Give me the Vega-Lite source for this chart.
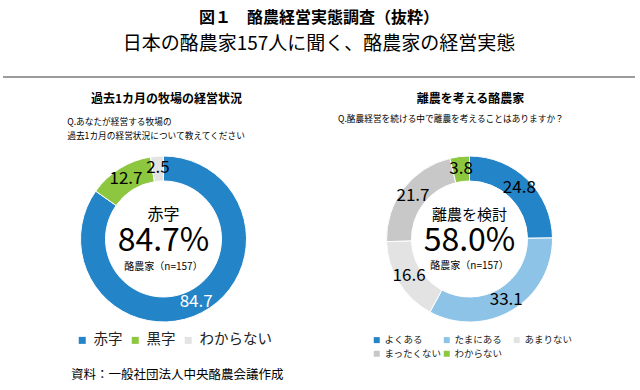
{
  "$schema": "https://vega.github.io/schema/vega-lite/v6.json",
  "padding": {"left": 3, "top": 10, "right": 0, "bottom": 0},
  "background": "white",
  "config": {"font": "Noto Sans CJK JP", "view": {"stroke": null}},
  "title": {
    "text": "図１　酪農経営実態調査（抜粋）",
    "subtitle": "日本の酪農家157人に聞く、酪農家の経営実態",
    "anchor": "middle",
    "fontSize": 16,
    "fontWeight": "bold",
    "color": "#000000",
    "subtitleFontSize": 19,
    "subtitleColor": "#000000",
    "subtitlePadding": 9,
    "offset": 22
  },
  "spacing": 15,
  "vconcat": [
    {
      "width": 632,
      "height": 2,
      "view": {"fill": "#9c9c9c", "stroke": null},
      "data": {"values": []},
      "mark": "rule",
      "encoding": {}
    },
    {
      "title": {
        "text": "資料：一般社団法人中央酪農会議作成",
        "orient": "bottom",
        "anchor": "start",
        "dx": 68,
        "offset": 6,
        "fontSize": 12.5,
        "fontWeight": "normal",
        "color": "#000000"
      },
      "spacing": 14,
      "resolve": {
        "scale": {"color": "independent", "theta": "independent", "x": "independent", "y": "independent"},
        "legend": {"color": "independent"}
      },
      "hconcat": [
        {
          "width": 321,
          "height": 248,
          "title": {"text": "過去1カ月の牧場の経営状況", "fontSize": 12, "fontWeight": "bold", "offset": 9, "dx": 3, "anchor": "middle", "color": "#000000"},
          "layer": [
            {
              "data": {"values": [
                {"cat": "赤字", "value": 84.7, "ord": 1},
                {"cat": "黒字", "value": 12.7, "ord": 2},
                {"cat": "わからない", "value": 2.5, "ord": 3}
              ]},
              "layer": [
                {
                  "mark": {"type": "arc", "innerRadius": 58, "outerRadius": 83, "stroke": "#ffffff", "strokeWidth": 1},
                  "encoding": {
                    "theta": {"field": "value", "type": "quantitative", "stack": true},
                    "order": {"field": "ord", "type": "quantitative"},
                    "color": {
                      "field": "cat", "type": "nominal",
                      "scale": {"domain": ["赤字", "黒字", "わからない"], "range": ["#2384C8", "#8DC63F", "#E3E3E3"]},
                      "legend": {
                        "orient": "none", "legendX": 72, "legendY": 218, "direction": "horizontal",
                        "title": null, "symbolType": "square", "symbolSize": 49, "symbolStrokeWidth": 0,
                        "labelFontSize": 14.5, "labelColor": "#222222", "columnPadding": 5, "labelOffset": 4, "padding": 0
                      }
                    }
                  }
                },
                {
                  "mark": {"type": "text", "radius": 71, "fontSize": 17},
                  "encoding": {
                    "theta": {"field": "value", "type": "quantitative", "stack": true},
                    "order": {"field": "ord", "type": "quantitative"},
                    "text": {"field": "value", "type": "quantitative", "format": ".1f"},
                    "color": {"condition": {"test": "datum.cat === '赤字'", "value": "#ffffff"}, "value": "#000000"}
                  }
                }
              ]
            },
            {
              "data": {"values": [{"t": "赤字"}]},
              "mark": {"type": "text", "fontSize": 16, "dy": -24, "color": "#000000"},
              "encoding": {"text": {"field": "t", "type": "nominal"}}
            },
            {
              "data": {"values": [{"t": "84.7%"}]},
              "mark": {"type": "text", "fontSize": 32, "dy": 2, "color": "#000000"},
              "encoding": {"text": {"field": "t", "type": "nominal"}}
            },
            {
              "data": {"values": [{"t": "酪農家（n=157）"}]},
              "mark": {"type": "text", "fontSize": 10, "dy": 28, "color": "#000000"},
              "encoding": {"text": {"field": "t", "type": "nominal"}}
            },
            {
              "data": {"values": [{"t": "Q.あなたが経営する牧場の\n過去1カ月の経営状況について教えてください"}]},
              "mark": {"type": "text", "align": "left", "baseline": "top", "fontSize": 8.7, "lineBreak": "\n", "lineHeight": 14, "color": "#000000"},
              "encoding": {
                "x": {"datum": 0.2, "type": "quantitative", "scale": {"domain": [0, 1]}, "axis": null},
                "y": {"datum": 0.986, "type": "quantitative", "scale": {"domain": [0, 1]}, "axis": null},
                "text": {"field": "t", "type": "nominal"}
              }
            }
          ]
        },
        {
          "width": 263,
          "height": 248,
          "title": {"text": "離農を考える酪農家", "fontSize": 12, "fontWeight": "bold", "offset": 9, "dx": 1, "anchor": "middle", "color": "#000000"},
          "layer": [
            {
              "data": {"values": [
                {"cat": "よくある", "value": 24.8, "ord": 1},
                {"cat": "たまにある", "value": 33.1, "ord": 2},
                {"cat": "あまりない", "value": 16.6, "ord": 3},
                {"cat": "まったくない", "value": 21.7, "ord": 4},
                {"cat": "わからない", "value": 3.8, "ord": 5}
              ]},
              "layer": [
                {
                  "mark": {"type": "arc", "innerRadius": 58, "outerRadius": 83, "stroke": "#ffffff", "strokeWidth": 1},
                  "encoding": {
                    "theta": {"field": "value", "type": "quantitative", "stack": true},
                    "order": {"field": "ord", "type": "quantitative"},
                    "color": {
                      "field": "cat", "type": "nominal",
                      "scale": {"domain": ["よくある", "たまにある", "あまりない", "まったくない", "わからない"], "range": ["#2384C8", "#8DC3E6", "#E3E3E3", "#C8C8C8", "#8DC63F"]},
                      "legend": {
                        "orient": "none", "legendX": 34, "legendY": 220, "direction": "horizontal", "columns": 3, "gridAlign": "all",
                        "title": null, "symbolType": "square", "symbolSize": 36, "symbolStrokeWidth": 0,
                        "labelFontSize": 9.5, "labelColor": "#222222", "columnPadding": 0, "rowPadding": 3, "labelOffset": 3, "padding": 0
                      }
                    }
                  }
                },
                {
                  "mark": {"type": "text", "radius": 71, "fontSize": 17, "color": "#000000"},
                  "encoding": {
                    "theta": {"field": "value", "type": "quantitative", "stack": true},
                    "order": {"field": "ord", "type": "quantitative"},
                    "text": {"field": "value", "type": "quantitative", "format": ".1f"}
                  }
                }
              ]
            },
            {
              "data": {"values": [{"t": "離農を検討"}]},
              "mark": {"type": "text", "fontSize": 15, "dy": -24, "color": "#000000"},
              "encoding": {"text": {"field": "t", "type": "nominal"}}
            },
            {
              "data": {"values": [{"t": "58.0%"}]},
              "mark": {"type": "text", "fontSize": 32, "dy": 2, "color": "#000000"},
              "encoding": {"text": {"field": "t", "type": "nominal"}}
            },
            {
              "data": {"values": [{"t": "酪農家（n=157）"}]},
              "mark": {"type": "text", "fontSize": 10, "dy": 27, "color": "#000000"},
              "encoding": {"text": {"field": "t", "type": "nominal"}}
            },
            {
              "data": {"values": [{"t": "Q.酪農経営を続ける中で離農を考えることはありますか？"}]},
              "mark": {"type": "text", "align": "left", "baseline": "top", "fontSize": 8.7, "color": "#000000"},
              "encoding": {
                "x": {"datum": 0, "type": "quantitative", "scale": {"domain": [0, 1]}, "axis": null},
                "y": {"datum": 1, "type": "quantitative", "scale": {"domain": [0, 1]}, "axis": null},
                "text": {"field": "t", "type": "nominal"}
              }
            }
          ]
        }
      ]
    }
  ]
}
